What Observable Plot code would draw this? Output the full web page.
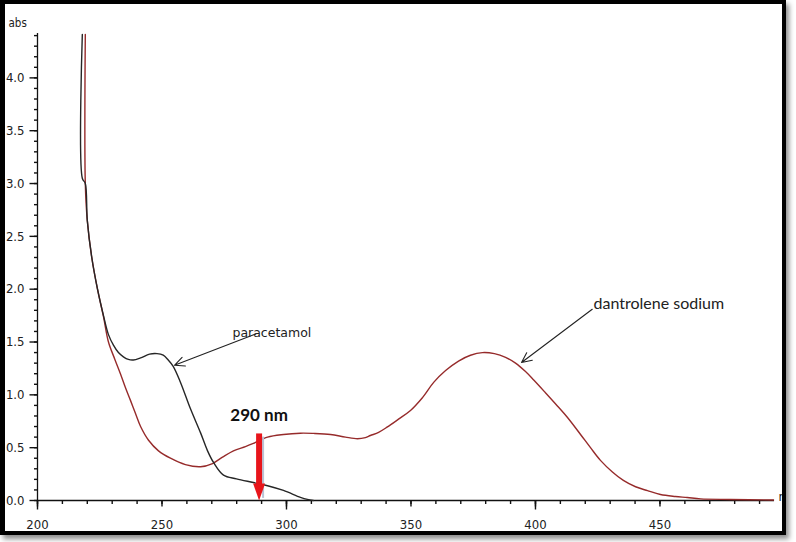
<!DOCTYPE html>
<html><head><meta charset="utf-8">
<script src="https://cdn.jsdelivr.net/npm/d3@7"></script>
<script src="https://cdn.jsdelivr.net/npm/@observablehq/plot@0.6"></script>
<style>
html,body{margin:0;padding:0;background:#fff;}
#wrap{position:relative;width:796px;height:542px;overflow:hidden;background:#fff;}
#frame{position:absolute;left:0;top:0;width:786px;height:535px;box-sizing:border-box;border:4px solid #000;border-left-width:5px;box-shadow:3px 4px 5px rgba(0,0,0,0.45);pointer-events:none;}
</style></head><body>
<div id="wrap"><div id="chart"></div><div id="frame"></div></div>
<script>
// Paracetamol spectrum (black)
const paracetamolNm = [218.0, 218.0, 219.2, 220.0, 221.8, 224.1, 226.5, 228.5, 230.5, 232.5, 234.5, 236.5, 238.5, 241.4, 245.0, 248.0, 250.5, 252.5, 254.5, 257.4, 261.4, 265.5, 268.3, 270.7, 274.7, 279.9, 286.7, 292.4, 298.8, 305.6, 308.4, 310.8];
const paracetamolAbs = [4.41, 3.05, 3.0, 2.65, 2.3, 2.0, 1.75, 1.57, 1.47, 1.40, 1.36, 1.335, 1.33, 1.35, 1.385, 1.39, 1.375, 1.33, 1.27, 1.12, 0.87, 0.64, 0.47, 0.36, 0.24, 0.205, 0.17, 0.14, 0.095, 0.03, 0.01, 0.0];
// Dantrolene sodium spectrum (dark red)
const dantroleneNm = [219.2, 219.2, 220.0, 221.8, 224.1, 226.5, 228.5, 231.0, 233.3, 235.3, 237.3, 239.4, 241.4, 244.6, 248.6, 253.4, 259.4, 265.5, 270.3, 274.3, 278.7, 283.5, 286.7, 292.4, 298.8, 305.6, 310.8, 317.7, 323.7, 328.5, 331.7, 333.7, 337.0, 340.4, 345.0, 349.8, 354.5, 359.2, 363.9, 369.1, 373.9, 378.7, 383.5, 388.0, 392.0, 396.0, 399.3, 404.0, 408.8, 412.7, 418.1, 422.1, 426.1, 430.9, 435.3, 440.2, 445.0, 450.2, 456.2, 461.0, 466.3, 478.3, 495.6];
const dantroleneAbs = [4.41, 3.0, 2.65, 2.3, 2.0, 1.74, 1.5, 1.34, 1.2, 1.07, 0.95, 0.82, 0.70, 0.57, 0.47, 0.40, 0.34, 0.32, 0.35, 0.41, 0.47, 0.51, 0.54, 0.60, 0.625, 0.637, 0.635, 0.625, 0.60, 0.585, 0.595, 0.615, 0.645, 0.694, 0.77, 0.852, 0.97, 1.12, 1.23, 1.32, 1.375, 1.40, 1.39, 1.355, 1.30, 1.22, 1.14, 1.02, 0.895, 0.79, 0.625, 0.50, 0.38, 0.27, 0.19, 0.13, 0.093, 0.057, 0.038, 0.028, 0.015, 0.01, 0.005];

// Axis ticks
const xMajorTicks = [200, 250, 300, 350, 400, 450];
const xMinorTicks = d3.range(200, 491, 10);
const xHundredTicks = [200, 300, 400];
const yMajorTicks = [0, 0.5, 1.0, 1.5, 2.0, 2.5, 3.0, 3.5, 4.0];
const yMinorTicks = d3.range(0, 45).map(i => i / 10);
const xDomain = [200, 496];
const yDomain = [0, 4.42];
const yLabel = "abs";
const xLabel = "n";

// Annotations
const paraLabel = "paracetamol";
const dantLabel = "dantrolene sodium";
const labelNm = [278.3, 423.3];
const labelAbs = [1.59, 1.865];
const arrowFromNm = [287.6, 422.8];
const arrowFromAbs = [1.575, 1.81];
const arrowToNm = [255.0, 394.4];
const arrowToAbs = [1.28, 1.306];
const markerNm = 289;
const markerTopAbs = 0.63;
const markerText = "290 nm";
const markerTextAbs = 0.80;

const para = paracetamolNm.map((x, i) => ({x, y: paracetamolAbs[i]}));
const dant = dantroleneNm.map((x, i) => ({x, y: dantroleneAbs[i]}));
const arrows = arrowFromNm.map((x1, i) => ({x1, y1: arrowFromAbs[i], x2: arrowToNm[i], y2: arrowToAbs[i]}));

// tick glyphs (drawn as dot symbols anchored on the axis)
const leftTick = len => ({draw(ctx) { ctx.moveTo(0, 0); ctx.lineTo(-len, 0); }});
const downTick = len => ({draw(ctx) { ctx.moveTo(0, 0); ctx.lineTo(0, len); }});
const arrowHead = {
  draw(context) {
    context.moveTo(0, 0);
    context.lineTo(-6, -17);
    context.lineTo(6, -17);
    context.closePath();
  }
};

const tickFont = "'DejaVu Sans Condensed', 'DejaVu Sans', sans-serif";
const ink = "#111";
const tickStyle = {fill: "none", stroke: ink, strokeWidth: 1.4};

const chart = Plot.plot({
  width: 796,
  height: 542,
  marginLeft: 37,
  marginRight: 22,
  marginTop: 33,
  marginBottom: 42,
  style: {fontFamily: tickFont, fontSize: "13px", color: ink, background: "#fff"},
  x: {domain: xDomain, label: null},
  y: {domain: yDomain, label: null},
  marks: [
    // axis lines
    Plot.ruleX([xDomain[0]], {stroke: ink, strokeWidth: 1.3}),
    Plot.ruleY([0], {stroke: ink, strokeWidth: 1.3}),
    // y ticks
    Plot.dot(yMinorTicks, {x: d => xDomain[0], y: d => d, symbol: leftTick(3.5), ...tickStyle}),
    Plot.dot(yMajorTicks, {x: d => xDomain[0], y: d => d, symbol: leftTick(8), ...tickStyle}),
    Plot.axisY({ticks: yMajorTicks, tickSize: 0, tickPadding: 13, tickFormat: d => d.toFixed(1), fontSize: 13, fill: "#222"}),
    // x ticks
    Plot.dot(xMinorTicks, {x: d => d, y: d => 0, symbol: downTick(3.5), ...tickStyle}),
    Plot.dot(xMajorTicks, {x: d => d, y: d => 0, symbol: downTick(6), ...tickStyle}),
    Plot.dot(xHundredTicks, {x: d => d, y: d => 0, symbol: downTick(9), ...tickStyle}),
    Plot.axisX({ticks: xMajorTicks, tickSize: 0, tickPadding: 19, fontSize: 13, fill: "#222"}),
    Plot.text([yLabel], {frameAnchor: "top-left", dx: -29, dy: -15, textAnchor: "start", fontSize: 11.5, fill: "#222"}),
    Plot.text([xLabel], {frameAnchor: "bottom-right", dx: 4, dy: 0, textAnchor: "start", fontSize: 13, fill: "#222"}),
    // spectra
    Plot.line(dant, {x: "x", y: "y", stroke: "#962b2b", strokeWidth: 1.4, curve: "catmull-rom"}),
    Plot.line(para, {x: "x", y: "y", stroke: "#262626", strokeWidth: 1.4, curve: "catmull-rom"}),
    // annotations
    Plot.arrow(arrows, {x1: "x1", y1: "y1", x2: "x2", y2: "y2", stroke: "#222", strokeWidth: 1.1, headLength: 15, headAngle: 50}),
    Plot.text([paraLabel], {x: labelNm[0], y: labelAbs[0], textAnchor: "start", fontFamily: "'DejaVu Sans', sans-serif", fontSize: 12.5, fill: "#222"}),
    Plot.text([dantLabel], {x: labelNm[1], y: labelAbs[1], textAnchor: "start", fontFamily: "Lato, sans-serif", fontSize: 16, fill: "#222"}),
    Plot.text([markerText], {x: markerNm, y: markerTextAbs, textAnchor: "middle", fontFamily: "Lato, sans-serif", fontWeight: "bold", fontSize: 17, fill: "#111"}),
    // red marker arrow with soft shadow
    Plot.ruleX([markerNm], {y1: markerTopAbs - 0.03, y2: 0.02, dx: 4, stroke: "#b9c3d6", strokeWidth: 2}),
    Plot.ruleX([markerNm], {y1: markerTopAbs, y2: 0.12, stroke: "#e8151b", strokeWidth: 6}),
    Plot.dot([markerNm], {x: d => d, y: d => 0, symbol: arrowHead, fill: "#e8151b", stroke: "none", r: 5})
  ]
});

document.getElementById("chart").appendChild(chart);
</script>
</body></html>
